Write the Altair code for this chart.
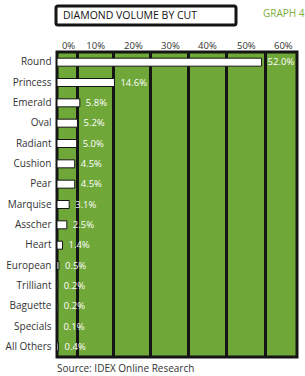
import altair as alt
import pandas as pd

cuts = ["Round", "Princess", "Emerald", "Oval", "Radiant", "Cushion", "Pear",
        "Marquise", "Asscher", "Heart", "European", "Trilliant", "Baguette",
        "Specials", "All Others"]
shares = [52.0, 14.6, 5.8, 5.2, 5.0, 4.5, 4.5, 3.1, 2.5, 1.4, 0.5, 0.2, 0.2, 0.1, 0.4]
tick_labels = ["0%", "10%", "20%", "30%", "40%", "50%", "60%"]

df = pd.DataFrame({"cut": cuts, "share": shares})
df["label"] = [f"{v:.1f}%" for v in shares]

# axis styling positions (where labels / divider lines sit in the graphic)
label_pos = [2.8, 9.7, 19.3, 28.7, 38.1, 48.0, 57.4]
divider_pos = [5.1, 14.2, 23.6, 33.3, 43.0, 52.9]

FONT = "Open Sans"
GREEN = "#6fa739"
INK = "#151515"
TXT = "#333333"

xscale = alt.Scale(domain=[0, 61], nice=False, zero=True)
yaxis = alt.Axis(labelFont=FONT, labelFontSize=10, labelColor=TXT,
                 labelPadding=6, ticks=False, domain=False, grid=False)
yenc = alt.Y("cut:N", sort=cuts, title=None,
             scale=alt.Scale(paddingInner=0, paddingOuter=0), axis=yaxis)

label_expr = "[" + ",".join(f"'{t}'" for t in tick_labels) + "][round(datum.value/10)]"

bars = alt.Chart(df).mark_bar(fill="white", stroke=INK, strokeWidth=1, size=8).encode(
    x=alt.X("share:Q", scale=xscale, title=None,
            axis=alt.Axis(orient="top", values=label_pos,
                          labelExpr=label_expr,
                          labelFont=FONT, labelFontSize=9.5, labelColor=TXT,
                          labelPadding=2, ticks=False, domain=False, grid=False)),
    y=yenc,
)

vals = alt.Chart(df).mark_text(align="left", baseline="middle", dx=6, fill="white",
                               font=FONT, fontSize=9.5).encode(
    x=alt.X("share:Q", scale=xscale, title=None,
            axis=alt.Axis(orient="bottom", values=divider_pos, grid=True,
                          gridColor=INK, gridWidth=3, gridOpacity=1,
                          labels=False, ticks=False, domain=False)),
    y=yenc,
    text="label:N",
)

box = alt.Chart(pd.DataFrame({"a": [1]})).mark_rect(
    fill="white", stroke=INK, strokeWidth=3, cornerRadius=2).encode(
    x=alt.value(-1), x2=alt.value(179), y=alt.value(-46), y2=alt.value(-27))
title = alt.Chart(pd.DataFrame({"a": [1]})).mark_text(
    align="left", baseline="middle", font=FONT, fontSize=10.5, fill="#111",
    text="DIAMOND VOLUME BY CUT").encode(x=alt.value(6), y=alt.value(-36.5))
graph = alt.Chart(pd.DataFrame({"a": [1]})).mark_text(
    align="left", baseline="middle", font=FONT, fontSize=10, fill="#7cad3c",
    text="GRAPH 4").encode(x=alt.value(206), y=alt.value(-38))
source = alt.Chart(pd.DataFrame({"a": [1]})).mark_text(
    align="left", baseline="middle", font=FONT, fontSize=10, fill=TXT,
    text="Source: IDEX Online Research").encode(x=alt.value(0), y=alt.value(317))

chart = alt.layer(bars, vals, box, title, graph, source).resolve_axis(
    x="independent").properties(
    width=240, height=305,
    background="white",
    autosize=alt.AutoSizeParams(type="none"),
    padding={"left": 57, "top": 52, "right": 8, "bottom": 19},
).configure_view(fill=GREEN, stroke=INK, strokeWidth=3)

chart.save("out.html", embed_options={"renderer": "svg", "actions": False})
